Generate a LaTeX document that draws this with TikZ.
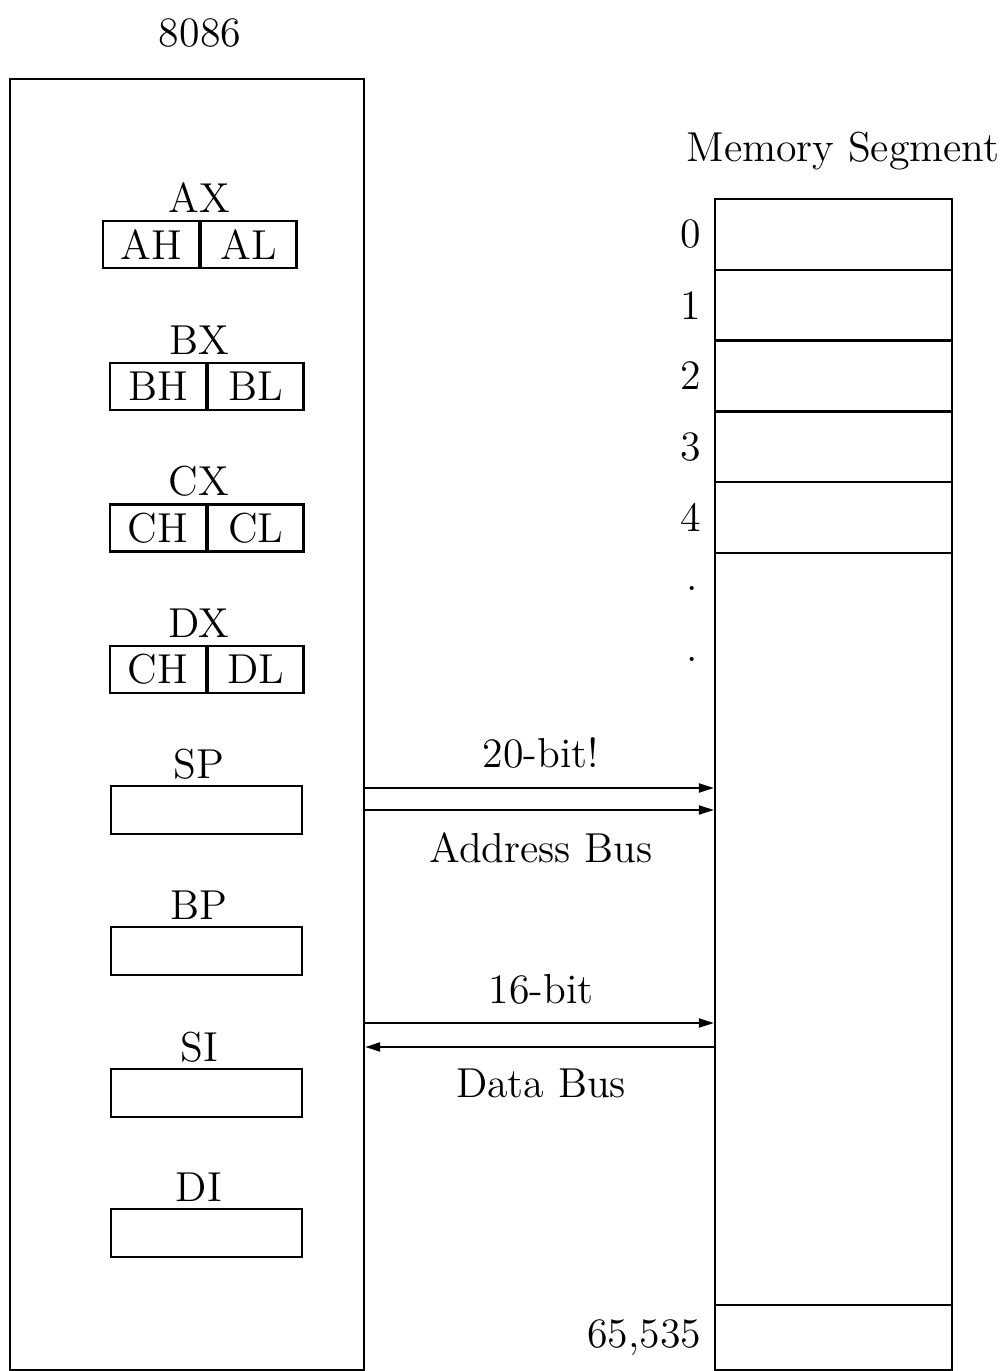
\documentclass[tikz,border=0pt]{standalone}
\usepackage{tikz}
\usetikzlibrary{
	arrows.meta,
	positioning,
}
\tikzset{
	half/.style={draw, minimum width=0.955cm, minimum height=0.47cm, inner sep=0pt},
	reg/.style={draw, minimum width=1.91cm, minimum height=0.48cm, inner sep=0pt},
	cell/.style={draw, minimum width=2.37cm, minimum height=0.71cm, inner sep=0pt},
	bus/.style={-{Triangle[length=0.15cm, width=0.09cm]}},
}

\begin{document}
\begin{tikzpicture}[x=0.01cm, y=-0.01cm, line width=0.6pt, font=\fontsize{11.9}{14}\selectfont]
				\useasboundingbox (0,0) rectangle (1004,1371);
				% processor
				\node (cpulabel) at (200,33) {8086};
				\node[draw, minimum width=3.54cm, minimum height=12.91cm] (cpu) at (187,724.5) {};
				\foreach \n/\h/\l/\x/\y in {A/AH/AL/151/244.5, B/BH/BL/158/386.5, C/CH/CL/158/528, D/CH/DL/158/669.5} {
					\node[half] (reg\n-hi) at (\x,\y) {\h};
					\node[half, right=0pt of reg\n-hi] (reg\n-lo) {\l};
					\node at (199,\y-46.5) {\n X};
				}
				\foreach \r/\y in {SP/810, BP/951, SI/1093, DI/1233} {
					\node[reg] (\r) at (206.5,\y) {};
					\node at (199,\y-46) {\r};
				}
				% memory
				\node (memlabel) at (843,151) {Memory Segment};
				\node[draw, minimum width=2.37cm, minimum height=11.71cm] (mem) at (833.5,784.5) {};
				\foreach \i in {0,...,4} {
					\node[cell] (cell\i) at (833.5,{234.5+70.75*\i}) {};
					\node[left=0pt of cell\i] {\i};
				}
				\node (dot1) at (692,588) {.};
				\node (dot2) at (692,659) {.};
				\node[cell, minimum height=0.65cm] (cellN) at (833.5,1337.5) {};
				\node[left=0pt of cellN] {65,535};
				% buses
				\coordinate (y1) at (0,788);
				\coordinate (y2) at (0,810);
				\coordinate (y3) at (0,1023);
				\coordinate (y4) at (0,1047);
				\draw[bus] (cpu.east |- y1) -- (mem.west |- y1);
				\draw[bus] (cpu.east |- y2) -- (mem.west |- y2);
				\draw[bus] (cpu.east |- y3) -- (mem.west |- y3);
				\draw[bus] (mem.west |- y4) -- (cpu.east |- y4);
				\node at (541,753) {20-bit!};
				\node at (541,848) {Address Bus};
				\node at (541,989) {16-bit};
				\node at (541,1083) {Data Bus};
			\end{tikzpicture}
\end{document}
